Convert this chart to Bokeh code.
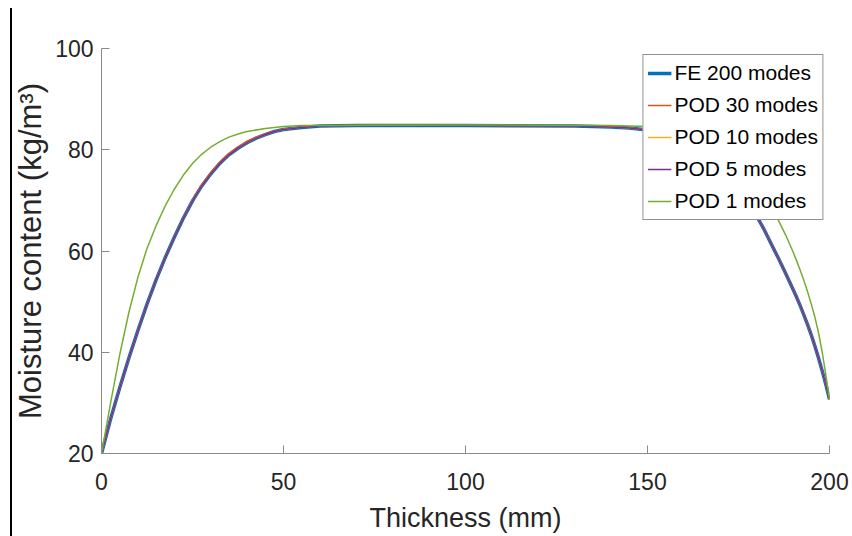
from bokeh.plotting import figure
from bokeh.models import Range1d, Legend, LegendItem, FixedTicker
from bokeh.embed import file_html
from bokeh.resources import INLINE

# ---- data ----
x_fe = [0, 2.5, 5, 7.5, 10, 12.5, 15, 17.5, 20, 22.5, 25, 27.5, 30, 32.5, 35, 37.5, 40,
        42.5, 45, 47.5, 50, 55, 60, 70, 100, 130, 140, 145, 147.5, 150, 152.5, 155, 157.5,
        160, 162.5, 165, 167.5, 170, 172.5, 175, 177.5, 180, 182, 184, 186, 188, 190, 191,
        192, 193, 194, 195, 196, 197, 198, 199, 200]
y_fe = [20, 26.8, 33.0, 38.8, 44.3, 49.5, 54.3, 58.7, 62.7, 66.5, 69.9, 72.8, 75.2, 77.3,
        79.0, 80.3, 81.4, 82.3, 83.0, 83.6, 84.0, 84.4, 84.7, 84.8, 84.8, 84.7, 84.5, 84.3,
        84.1, 83.9, 83.5, 83.0, 82.4, 81.6, 80.6, 79.4, 78.0, 76.4, 74.5, 72.3, 69.8, 66.9,
        64.3, 61.4, 58.5, 55.5, 52.4, 50.8, 49.1, 47.3, 45.4, 43.4, 41.2, 38.8, 36.3, 33.6, 30.7]
y_pod30 = [20, 26.8, 33.0, 38.8, 44.3, 49.5, 54.3, 58.7, 62.7, 66.6, 70.1, 73.1, 75.5, 77.6,
           79.3, 80.6, 81.7, 82.5, 83.2, 83.7, 84.1, 84.4, 84.7, 84.8, 84.8, 84.7, 84.5, 84.3,
           84.1, 83.9, 83.5, 83.0, 82.4, 81.6, 80.6, 79.4, 78.0, 76.4, 74.5, 72.3, 69.8, 66.9,
           64.3, 61.4, 58.5, 55.5, 52.4, 50.8, 49.1, 47.3, 45.4, 43.4, 41.2, 38.8, 36.3, 33.6, 30.7]
y_pod10 = [20, 26.8, 33.0, 38.8, 44.3, 49.5, 54.3, 58.7, 62.7, 66.5, 69.9, 72.8, 75.2, 77.3,
           79.0, 80.3, 81.4, 82.3, 83.0, 83.6, 84.0, 84.4, 84.7, 84.8, 84.8, 84.7, 84.5, 84.3,
           84.1, 83.9, 83.5, 83.0, 82.4, 81.6, 80.6, 79.4, 78.0, 76.4, 74.5, 72.3, 69.8, 66.9,
           64.3, 61.4, 58.5, 55.5, 52.4, 50.8, 49.1, 47.3, 45.4, 43.4, 41.2, 38.8, 36.3, 33.6, 30.7]
y_pod5 = [20, 26.8, 33.0, 38.8, 44.3, 49.5, 54.3, 58.7, 62.7, 66.5, 69.9, 72.8, 75.2, 77.3,
          79.0, 80.3, 81.4, 82.3, 83.0, 83.6, 84.0, 84.4, 84.7, 84.8, 84.8, 84.7, 84.5, 84.3,
          84.1, 83.9, 83.5, 83.0, 82.4, 81.6, 80.6, 79.4, 78.0, 76.4, 74.5, 72.3, 69.8, 66.9,
          64.3, 61.4, 58.5, 55.5, 52.4, 50.8, 49.1, 47.3, 45.4, 43.4, 41.2, 38.8, 36.3, 33.6, 30.7]
x_pod1 = [0, 2.5, 5, 7.5, 10, 12.5, 15, 17.5, 20, 22.5, 25, 27.5, 30, 32.5, 35, 37.5, 40,
          45, 50, 55, 100, 140, 150, 155, 160, 162.5, 165, 167.5, 170, 172.5, 175, 177.5,
          180, 182, 184, 186, 188, 190, 191, 192, 193, 194, 195, 196, 197, 198, 199, 200]
y_pod1 = [20, 30.0, 39.5, 47.8, 54.8, 60.5, 65.0, 68.9, 72.2, 75.0, 77.3, 79.1, 80.5, 81.6,
          82.5, 83.1, 83.6, 84.2, 84.6, 84.8, 84.9, 84.8, 84.6, 84.3, 83.6, 83.0, 82.2, 81.2,
          80.0, 78.6, 77.0, 75.1, 72.9, 70.9, 68.6, 66.0, 63.1, 59.8, 58.0, 56.1, 54.1, 51.9,
          49.5, 46.9, 43.8, 40.0, 35.5, 30.7]

x_ticks = [0, 50, 100, 150, 200]
y_ticks = [20, 40, 60, 80, 100]
series_names = ["FE 200 modes", "POD 30 modes", "POD 10 modes", "POD 5 modes", "POD 1 modes"]
colors = ["#0072BD", "#D95319", "#EDB120", "#7E2F8E", "#77AC30"]

FONT = "Liberation Sans"

p = figure(width=852, height=536, output_backend="svg", toolbar_location=None,
           x_range=Range1d(0, 200), y_range=Range1d(20, 100),
           min_border_left=101, min_border_right=23, min_border_top=48, min_border_bottom=83)
p.xgrid.visible = False
p.ygrid.visible = False
p.outline_line_color = None
p.background_fill_color = "white"
p.border_fill_color = None
p.styles = {
    "background-color": "white",
    "background-image": "linear-gradient(#000000, #000000)",
    "background-repeat": "no-repeat",
    "background-position": "10px 8px",
    "background-size": "2px 528px",
}

r0 = p.line(x_fe, y_fe, line_color=colors[0], line_width=3.5, line_join="round")
r1 = p.line(x_fe, y_pod30, line_color=colors[1], line_width=1.3, line_join="round")
r2 = p.line(x_fe, y_pod10, line_color=colors[2], line_width=1.3, line_join="round")
r3 = p.line(x_fe, y_pod5, line_color=colors[3], line_width=1.5, line_join="round")
r4 = p.line(x_pod1, y_pod1, line_color=colors[4], line_width=1.5, line_join="round")

p.xaxis.ticker = FixedTicker(ticks=x_ticks)
p.yaxis.ticker = FixedTicker(ticks=y_ticks)
for ax in (p.xaxis, p.yaxis):
    ax.axis_line_color = "#8a8a8a"
    ax.major_tick_line_color = "#8a8a8a"
    ax.minor_tick_line_color = None
    ax.major_tick_in = 8
    ax.major_tick_out = 0
    ax.major_label_text_font = FONT
    ax.major_label_text_font_size = "23px"
    ax.major_label_text_color = "#262626"
    ax.axis_label_text_font = FONT
    ax.axis_label_text_font_style = "normal"
    ax.axis_label_text_color = "#262626"

p.xaxis.axis_label = "Thickness (mm)"
p.xaxis.axis_label_text_font_size = "27px"
p.xaxis.major_label_standoff = 19
p.xaxis.axis_label_standoff = 10
p.yaxis.axis_label = "Moisture content (kg/m³)"
p.yaxis.axis_label_text_font_size = "31px"
p.yaxis.major_label_standoff = 8
p.yaxis.axis_label_standoff = 4

legend = Legend(items=[LegendItem(label=n, renderers=[r]) for n, r in
                       zip(series_names, [r0, r1, r2, r3, r4])],
                location="top_right", margin=6)
legend.label_text_font = FONT
legend.label_text_font_size = "21px"
legend.label_text_color = "#000000"
legend.label_height = 28
legend.glyph_height = 28
legend.glyph_width = 24
legend.spacing = 4
legend.padding = 4
legend.label_standoff = 3
legend.border_line_color = "#262626"
legend.border_line_width = 1
legend.background_fill_color = "white"
legend.background_fill_alpha = 1
p.add_layout(legend)

open("out.html", "w").write(file_html(p, INLINE))
